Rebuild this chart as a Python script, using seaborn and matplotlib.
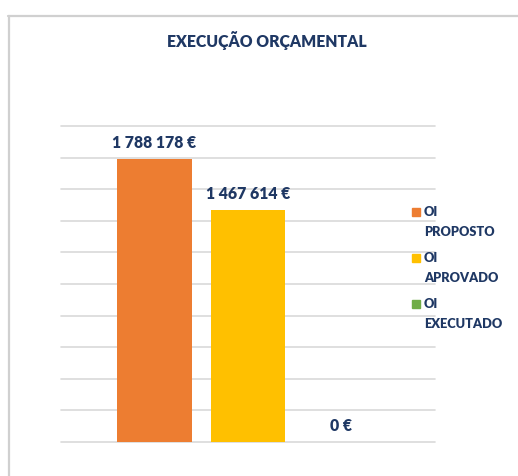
import matplotlib
matplotlib.use("Agg")
import matplotlib.pyplot as plt
from matplotlib.lines import Line2D
from matplotlib.patches import Rectangle
import seaborn as sns
import pandas as pd

# ---- data ----
series = ["OI PROPOSTO", "OI APROVADO", "OI EXECUTADO"]
legend_labels = ["OI\nPROPOSTO", "OI\nAPROVADO", "OI\nEXECUTADO"]
values = [1788178, 1467614, 0]
value_labels = ["1 788 178 €", "1 467 614 €", "0 €"]
colors = ["#ED7D31", "#FFC000", "#70AD47"]
title = "EXECUÇÃO ORÇAMENTAL"

df = pd.DataFrame({"serie": series, "valor": values})

sns.set_theme(style="white")
plt.rcParams["font.family"] = ["Lato", "DejaVu Sans"]
navy = "#1F3864"
WEIGHT = "heavy"

W, H = 518, 476
fig = plt.figure(figsize=(W / 100, H / 100), dpi=100)
ax = fig.add_axes([61 / W, 1 - 442 / H, (435 - 61) / W, (442 - 126) / H])

sns.barplot(data=df, x="serie", y="valor", hue="serie", palette=colors,
            order=series, hue_order=series, dodge=False, width=0.8,
            legend=False, ax=ax, saturation=1, edgecolor="none")

ax.set_xlim(-1, 3)
ax.set_ylim(0, 2000000)
ax.set_yticks(range(0, 2000001, 200000))
ax.yaxis.grid(True, color="#D9D9D9", linewidth=1.2)
ax.set_axisbelow(True)
for g in ax.get_ygridlines():
    g.set_clip_on(False)
ax.tick_params(left=False, bottom=False, labelleft=False, labelbottom=False)
ax.set_xlabel("")
ax.set_ylabel("")
for s in ax.spines.values():
    s.set_visible(False)

for i, (v, lab) in enumerate(zip(values, value_labels)):
    ax.annotate(lab, (i, v), xytext=(0, 6), textcoords="offset points",
                ha="center", va="bottom", fontsize=11.3, fontweight=WEIGHT,
                color=navy)

fig.text(267 / W, 1 - 41 / H, title, ha="center", va="center",
         fontsize=11.3, fontweight=WEIGHT, color=navy)

# legend (drawn manually to match the two-line layout)
for k, (lab, col) in enumerate(zip(legend_labels, colors)):
    y0 = 208 + k * 46
    fig.patches.append(Rectangle((412 / W, 1 - (y0 + 8) / H), 8 / W, 8 / H,
                                 transform=fig.transFigure, color=col))
    first, second = lab.split("\n")
    fig.text(424 / W, 1 - (y0 + 4) / H, first, ha="left", va="center",
             fontsize=9.2, fontweight=WEIGHT, color=navy)
    fig.text(424 / W, 1 - (y0 + 24) / H, second, ha="left", va="center",
             fontsize=9.2, fontweight=WEIGHT, color=navy)

# chart frame
fig.add_artist(Line2D([8 / W, 1], [1 - 16 / H, 1 - 16 / H],
                      transform=fig.transFigure, color="#D0D0D0", linewidth=1.6))
fig.add_artist(Line2D([9 / W, 9 / W], [1 - 16 / H, 0],
                      transform=fig.transFigure, color="#D0D0D0", linewidth=1.6))

fig.savefig("out.png", dpi=100)
